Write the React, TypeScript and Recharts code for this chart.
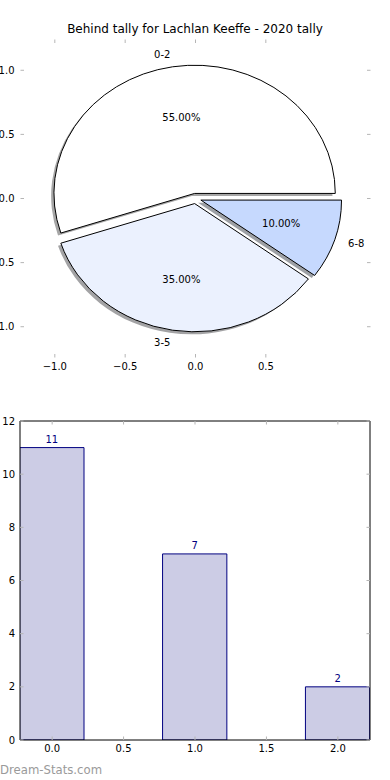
import React from 'react';
import {
  PieChart,
  Pie,
  Cell,
  ScatterChart,
  BarChart,
  Bar,
  XAxis,
  YAxis,
  LabelList
} from 'recharts';

// tally bins and counts (same numbers feed the pie and the bars)
const bins = ['0-2', '3-5', '6-8'];
const binCounts = [11, 7, 2];
const binColors = ['#ffffff', '#ebf1fe', '#c6d9fe'];
const barPositions = [0, 1, 2];

const pieXTicks = [-1, -0.5, 0, 0.5];
const pieYTicks = [-1, -0.5, 0, 0.5, 1];
const barXTicks = [0, 0.5, 1, 1.5, 2];
const barYTicks = [0, 2, 4, 6, 8, 10, 12];

const TITLE = 'Behind tally for Lachlan Keeffe - 2020 tally';
const FONT = '"DejaVu Sans", sans-serif';
const TICK_GREY = '#b5b5b5';
const NAVY = '#000080';
const BAR_FILL = '#cccce5';

// pie axes (plot box ~20.5..370.5 x 39.5..357.5)
const PIE_W = 390;
const PIE_H = 380;
const PIE_BOX = { top: 39.5, right: 19.5, bottom: 22.5, left: 20.5 };
const PIE_XLIM = 1.244;
const PIE_YLIM = 1.24;
const plotW = PIE_W - PIE_BOX.left - PIE_BOX.right;
const plotH = PIE_H - PIE_BOX.top - PIE_BOX.bottom;
const RX = plotW / (2 * PIE_XLIM);
const RY = plotH / (2 * PIE_YLIM);
const SQUASH = RY / RX;
const PIE_CX = PIE_BOX.left + plotW / 2;
const PIE_CY = PIE_BOX.top + plotH / 2;
const EXPLODE = 0.04;
const SHADOW = 0.02;

// bar axes (plot box 20..370 x 421..740)
const BAR_TOP = 380;
const BAR_W = 390;
const BAR_H = 400;
const BAR_BOX = { top: 41, right: 20, bottom: 40, left: 20 };
const BAR_XMIN = -0.225;
const BAR_XMAX = 2.225;
const BAR_WIDTH = 0.45;
const barPx = ((BAR_W - BAR_BOX.left - BAR_BOX.right) / (BAR_XMAX - BAR_XMIN)) * BAR_WIDTH;

// axes are 1px thick so recharts still draws them
const shrink = (b: { top: number; right: number; bottom: number; left: number }) => ({
  top: b.top - 1,
  right: b.right - 1,
  bottom: b.bottom - 1,
  left: b.left - 1
});

const pieData = bins.map((name, i) => ({ name, value: binCounts[i] }));
const barData = barPositions.map((x, i) => ({ x, value: binCounts[i] }));

const fmtNum = (v: number) => (v < 0 ? '\u2212' : '') + Math.abs(v).toFixed(1);

const shade = (hex: string) => {
  const n = parseInt(hex.slice(1), 16);
  const c = [(n >> 16) & 255, (n >> 8) & 255, n & 255].map((v) => Math.round(v * 0.3));
  return `rgb(${c[0]},${c[1]},${c[2]})`;
};

const RAD = Math.PI / 180;

const wedgePath = (cx: number, cy: number, r: number, a0: number, a1: number) => {
  const ry = r * SQUASH;
  const x0 = cx + r * Math.cos(a0 * RAD);
  const y0 = cy - ry * Math.sin(a0 * RAD);
  const x1 = cx + r * Math.cos(a1 * RAD);
  const y1 = cy - ry * Math.sin(a1 * RAD);
  const large = Math.abs(a1 - a0) > 180 ? 1 : 0;
  const sweep = a1 > a0 ? 0 : 1;
  return `M${cx},${cy}L${x0},${y0}A${r},${ry} 0 ${large} ${sweep} ${x1},${y1}Z`;
};

const explodeOffset = (r: number, mid: number) => [
  EXPLODE * r * Math.cos(mid * RAD),
  -EXPLODE * r * SQUASH * Math.sin(mid * RAD)
];

const WedgeShape = (props: any) => {
  const { cx, cy, outerRadius, startAngle, endAngle, fill } = props;
  const mid = (startAngle + endAngle) / 2;
  const [ox, oy] = explodeOffset(outerRadius, mid);
  return (
    <path
      d={wedgePath(cx + ox, cy + oy, outerRadius, startAngle, endAngle)}
      fill={fill}
      stroke="#000"
      strokeWidth={1}
    />
  );
};

const ShadowShape = (props: any) => {
  const { cx, cy, outerRadius, startAngle, endAngle, fill } = props;
  const mid = (startAngle + endAngle) / 2;
  const [ox, oy] = explodeOffset(outerRadius, mid);
  return (
    <path
      d={wedgePath(
        cx + ox - SHADOW * outerRadius,
        cy + oy + SHADOW * outerRadius * SQUASH,
        outerRadius,
        startAngle,
        endAngle
      )}
      fill={fill}
      fillOpacity={0.5}
      stroke="none"
    />
  );
};

const renderPieLabel = (props: any) => {
  const { cx, cy, outerRadius, midAngle, percent, name } = props;
  const [ox, oy] = explodeOffset(outerRadius, midAngle);
  const c = Math.cos(midAngle * RAD);
  const s = Math.sin(midAngle * RAD);
  const ry = outerRadius * SQUASH;
  return (
    <g>
      <text
        x={cx + ox + 1.1 * outerRadius * c}
        y={cy + oy - 1.1 * ry * s}
        textAnchor={c > 0 ? 'start' : 'end'}
        dominantBaseline="central"
        fontSize={10}
        fill="#000"
      >
        {name}
      </text>
      <text
        x={cx + ox + 0.6 * outerRadius * c}
        y={cy + oy - 0.6 * ry * s}
        textAnchor="middle"
        dominantBaseline="central"
        fontSize={10}
        fill="#000"
      >
        {(percent * 100).toFixed(2)}%
      </text>
    </g>
  );
};

// matplotlib style: short inward grey marks, optional label outside
const makeTick =
  (side: 'left' | 'right' | 'top' | 'bottom', showLabel: boolean, fmt: (v: number) => string, gap: number) =>
  (props: any) => {
    const { x, y, payload } = props;
    const L = 3.5;
    const label = showLabel ? fmt(payload.value) : null;
    if (side === 'left' || side === 'right') {
      const x2 = side === 'left' ? x + L : x - L;
      return (
        <g>
          <line x1={x} x2={x2} y1={y} y2={y} stroke={TICK_GREY} strokeWidth={1} />
          {label !== null && (
            <text x={x - gap} y={y} textAnchor="end" dominantBaseline="central" fontSize={10} fill="#000">
              {label}
            </text>
          )}
        </g>
      );
    }
    const y2 = side === 'bottom' ? y - L : y + L;
    return (
      <g>
        <line x1={x} x2={x} y1={y} y2={y2} stroke={TICK_GREY} strokeWidth={1} />
        {label !== null && (
          <text x={x} y={y + gap} textAnchor="middle" fontSize={10} fill="#000">
            {label}
          </text>
        )}
      </g>
    );
  };

const axisCommon = {
  type: 'number' as const,
  allowDataOverflow: true,
  tickSize: 0,
  tickMargin: 0,
  tickLine: false,
  interval: 0 as const
};

const App: React.FC = () => {
  return (
    <div
      style={{
        position: 'absolute',
        left: 0,
        top: 0,
        width: 390,
        height: 780,
        background: '#fff',
        fontFamily: FONT,
        overflow: 'hidden'
      }}
    >
      <div
        style={{
          position: 'absolute',
          left: 0,
          top: 22,
          width: 390,
          textAlign: 'center',
          fontSize: 12,
          lineHeight: '14px',
          color: '#000'
        }}
      >
        {TITLE}
      </div>

      {/* axes behind the pie */}
      <div style={{ position: 'absolute', left: 0, top: 0 }}>
        <ScatterChart width={PIE_W} height={PIE_H} margin={shrink(PIE_BOX)}>
          <XAxis
            {...axisCommon}
            xAxisId="b"
            dataKey="px"
            domain={[-PIE_XLIM, PIE_XLIM]}
            ticks={pieXTicks}
            height={1}
            axisLine={false}
            tick={makeTick('bottom', true, fmtNum, 12)}
          />
          <XAxis
            {...axisCommon}
            xAxisId="t"
            dataKey="px"
            orientation="top"
            domain={[-PIE_XLIM, PIE_XLIM]}
            ticks={pieXTicks}
            height={1}
            axisLine={false}
            tick={makeTick('top', false, fmtNum, 0)}
          />
          <YAxis
            {...axisCommon}
            yAxisId="l"
            dataKey="py"
            domain={[-PIE_YLIM, PIE_YLIM]}
            ticks={pieYTicks}
            width={1}
            axisLine={false}
            tick={makeTick('left', true, fmtNum, 6)}
          />
          <YAxis
            {...axisCommon}
            yAxisId="r"
            dataKey="py"
            orientation="right"
            domain={[-PIE_YLIM, PIE_YLIM]}
            ticks={pieYTicks}
            width={1}
            axisLine={false}
            tick={makeTick('right', false, fmtNum, 0)}
          />
        </ScatterChart>
      </div>

      <div style={{ position: 'absolute', left: 0, top: 0 }}>
        <PieChart width={PIE_W} height={PIE_H} margin={{ top: 0, right: 0, bottom: 0, left: 0 }}>
          <Pie
            data={pieData}
            dataKey="value"
            nameKey="name"
            cx={PIE_CX}
            cy={PIE_CY}
            outerRadius={RX}
            startAngle={0}
            endAngle={360}
            stroke="none"
            labelLine={false}
            isAnimationActive={false}
            shape={ShadowShape}
            activeShape={ShadowShape}
            inactiveShape={ShadowShape}
          >
            {binColors.map((c, i) => (
              <Cell key={i} fill={shade(c)} />
            ))}
          </Pie>
          <Pie
            data={pieData}
            dataKey="value"
            nameKey="name"
            cx={PIE_CX}
            cy={PIE_CY}
            outerRadius={RX}
            startAngle={0}
            endAngle={360}
            labelLine={false}
            label={renderPieLabel}
            isAnimationActive={false}
            shape={WedgeShape}
            activeShape={WedgeShape}
            inactiveShape={WedgeShape}
          >
            {binColors.map((c, i) => (
              <Cell key={i} fill={c} />
            ))}
          </Pie>
        </PieChart>
      </div>

      <div style={{ position: 'absolute', left: 0, top: BAR_TOP }}>
        <BarChart width={BAR_W} height={BAR_H} margin={shrink(BAR_BOX)} data={barData}>
          <XAxis
            {...axisCommon}
            xAxisId="b"
            dataKey="x"
            domain={[BAR_XMIN, BAR_XMAX]}
            ticks={barXTicks}
            height={1}
            axisLine={{ stroke: '#000', strokeWidth: 1 }}
            tick={makeTick('bottom', true, fmtNum, 12)}
          />
          <XAxis
            {...axisCommon}
            xAxisId="t"
            dataKey="x"
            orientation="top"
            domain={[BAR_XMIN, BAR_XMAX]}
            ticks={barXTicks}
            height={1}
            axisLine={{ stroke: '#000', strokeWidth: 1 }}
            tick={makeTick('top', false, fmtNum, 0)}
          />
          <YAxis
            {...axisCommon}
            yAxisId="l"
            domain={[0, 12]}
            ticks={barYTicks}
            width={1}
            axisLine={{ stroke: '#000', strokeWidth: 1 }}
            tick={makeTick('left', true, (v) => String(v), 5)}
          />
          <YAxis
            {...axisCommon}
            yAxisId="r"
            orientation="right"
            domain={[0, 12]}
            ticks={barYTicks}
            width={1}
            axisLine={{ stroke: '#000', strokeWidth: 1 }}
            tick={makeTick('right', false, (v) => String(v), 0)}
          />
          <Bar
            xAxisId="b"
            yAxisId="l"
            dataKey="value"
            barSize={barPx}
            fill={BAR_FILL}
            stroke={NAVY}
            strokeWidth={1}
            isAnimationActive={false}
          >
            <LabelList dataKey="value" position="top" offset={5} fill={NAVY} fontSize={10} />
          </Bar>
        </BarChart>
      </div>

      <div
        style={{
          position: 'absolute',
          left: 0,
          top: 763,
          fontSize: 11.7,
          lineHeight: '14px',
          color: '#9a9a9a'
        }}
      >
        Dream-Stats.com
      </div>
    </div>
  );
};

export default App;
